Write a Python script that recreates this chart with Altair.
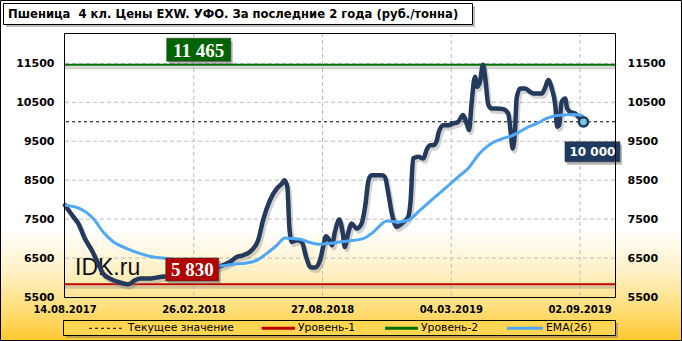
import altair as alt
import pandas as pd

# ---------------- data ----------------
x_tick_idx = [0, 26, 52, 78, 104]
x_tick_labels = ["14.08.2017", "26.02.2018", "27.08.2018", "04.03.2019", "02.09.2019"]
y_ticks = [5500, 6500, 7500, 8500, 9500, 10500, 11500]

price_x = [0, 1.7, 2.7, 4.0, 5.4, 6.7, 7.7, 9.1, 10.8, 12.8, 14.1, 15.2, 17.2, 19.2, 21.2,
           26.3, 31.3, 33.3, 34.7, 36.0, 37.7, 39.0, 40.0, 41.4, 42.8, 43.8, 44.3, 44.9,
           45.3, 45.8, 46.8, 47.8, 48.7, 49.5, 50.5, 51.5, 52.2, 52.7, 53.4, 53.9, 54.5,
           55.4, 56.1, 56.5, 57.2, 57.9, 58.9, 59.9, 60.6, 61.3, 61.9, 64.0, 64.6, 65.3,
           66.0, 67.0, 68.0, 69.3, 69.8, 70.3, 71.4, 72.4, 73.0, 73.7, 74.4, 75.1, 75.4,
           76.4, 77.4, 78.4, 79.4, 80.4, 81.1, 81.6, 82.1, 82.8, 83.2, 83.8, 84.4, 84.8,
           85.5, 86.2, 87.2, 88.5, 89.5, 90.0, 90.4, 90.9, 91.2, 91.9, 92.9, 93.9, 94.6,
           96.3, 96.9, 97.6, 98.3, 99.0, 99.4, 99.8, 100.3, 101.0, 101.4, 102.0, 103.0,
           103.7, 104.7]
price_y = [7857, 7557, 7387, 7001, 6700, 6358, 6100, 5973, 5886, 5826, 5929, 5973, 5975, 6014, 6040,
           6180, 6289, 6400, 6528, 6572, 6700, 6957, 7472, 7986, 8287, 8415, 8500, 8328,
           7300, 6914, 6957, 6914, 6528, 6271, 6256, 6443, 6829, 7060, 6957, 6829, 7171,
           7490, 7130, 6785, 7150, 7387, 7258, 7387, 7814, 8500, 8628, 8628, 8585, 8157,
           7644, 7300, 7387, 7557, 7986, 9058, 9099, 9058, 9271, 9400, 9400, 9528, 9700,
           9914, 9914, 9957, 10000, 10171, 9957, 9786, 10471, 11156, 10900, 11028, 11465, 11200,
           10428, 10343, 10343, 10325, 10214, 9743, 9315, 9828, 10600, 10857, 10857, 10771, 10728,
           10728, 10857, 11070, 10857, 10428, 9871, 9914, 10514, 10600, 10343, 10257, 10214,
           10128, 10000]

ema_x = [0, 3.0, 5.7, 7.7, 9.8, 12.5, 15.2, 17.8, 20.5, 26.3, 31.3, 34.0, 36.7, 39.0, 40.7,
         42.8, 44.4, 45.8, 47.5, 49.1, 51.2, 53.2, 55.5, 57.2, 60.2, 62.3, 65.0, 67.3, 69.3,
         71.7, 74.4, 77.1, 79.4, 81.4, 83.8, 85.8, 88.5, 90.2, 91.2, 93.2, 95.3, 97.3, 99.0,
         100.6, 102.7, 104.7]
ema_y = [7857, 7772, 7515, 7171, 6914, 6744, 6615, 6528, 6487, 6400, 6300, 6341, 6374, 6461, 6615,
         6829, 7017, 7001, 6983, 6914, 6855, 6872, 6914, 6940, 7001, 7171, 7454, 7428, 7472,
         7729, 8030, 8328, 8585, 8800, 9200, 9418, 9572, 9640, 9700, 9845, 9957, 10086, 10154,
         10171, 10189, 10150]

series_names = ["Текущее значение", "Уровень-1", "Уровень-2", "EMA(26)"]
series_colors = ["#000000", "#C00000", "#007000", "#4FA8F5"]
current_value = 10000
level1_value = 5830
level2_value = 11465
current_x = 104.7

title_text = "Пшеница\u00a0 4 кл. Цены EXW. УФО. За последние 2 года (руб./тонна)"
label_texts = ["11 465", "5 830", "10 000"]
label_x = [27.0, 25.7, 104.7]
label_y = [11465, 5830, 10000]

# ---------------- layout ----------------
W, H = 550, 264
XMAX = W * 26 / 128.75
xscale = alt.Scale(domain=[0, XMAX], nice=False, zero=False)
yscale = alt.Scale(domain=[5500, 12280], nice=False, zero=False)

# legend layout (pixels, relative to plot origin)
leg_x0 = [24, 196.7, 320, 442]
leg_x1 = [56.7, 230, 353, 478]
leg_tx = [62.7, 233, 356, 481]
leg_y = 295.3

price_df = pd.DataFrame({"i": price_x, "v": price_y})
ema_df = pd.DataFrame({"i": ema_x, "v": ema_y})
one = pd.DataFrame({"a": [0]})


def X(field):
    return alt.X(field, type="quantitative", scale=xscale, axis=None)


def Y(field, axis=None):
    return alt.Y(field, type="quantitative", scale=yscale, axis=axis)


def yaxis(orient, pad):
    return alt.Axis(values=y_ticks, format="d", labelFont="DejaVu Sans", labelFontWeight="bold",
                    labelFontSize=11, labelColor="black", ticks=False, domain=False,
                    grid=False, labelPadding=pad, title=None, zindex=2, orient=orient)


gradient = {
    "gradient": "linear", "x1": 0, "y1": 0, "x2": 0, "y2": 1,
    "stops": [
        {"offset": 0.0, "color": "#FFFFFF"},
        {"offset": 0.67, "color": "#FFFFFF"},
        {"offset": 0.80, "color": "#FFF0C4"},
        {"offset": 0.90, "color": "#FFE07E"},
        {"offset": 1.0, "color": "#FFC830"},
    ],
}

bg = alt.Chart(one).mark_rect(fill=gradient, stroke="black", strokeWidth=1).encode(
    x=alt.value(-64.5), x2=alt.value(616.5), y=alt.value(-32.5), y2=alt.value(307.5))

# title box
title_shadow = alt.Chart(one).mark_rect(fill="#808080", opacity=0.5).encode(
    x=alt.value(-59), x2=alt.value(410), y=alt.value(-27), y2=alt.value(-6))
title_box = alt.Chart(one).mark_rect(fill="white", stroke="black", strokeWidth=1).encode(
    x=alt.value(-61.5), x2=alt.value(407.5), y=alt.value(-29.5), y2=alt.value(-8.5))
title = alt.Chart(pd.DataFrame({"t": [title_text]})).mark_text(
    font="DejaVu Sans", fontWeight="bold", fontSize=11.6, align="left", baseline="alphabetic",
    color="black").encode(x=alt.value(-57), y=alt.value(-15), text="t:N")

# grids
ygrid = alt.Chart(pd.DataFrame({"v": y_ticks[1:]})).mark_rule(
    color="#BDBDBD", strokeDash=[4, 3], strokeWidth=1).encode(y=Y("v"))
xgrid = alt.Chart(pd.DataFrame({"i": x_tick_idx[1:]})).mark_rule(
    color="#BDBDBD", strokeDash=[4, 3], strokeWidth=1).encode(x=X("i"))

# x labels
xlabels = alt.Chart(pd.DataFrame({"i": x_tick_idx, "t": x_tick_labels})).mark_text(
    font="DejaVu Sans", fontWeight="bold", fontSize=10, color="black", align="center",
    baseline="middle").encode(x=X("i"), y=alt.value(H + 13.2), text="t:N")

# level lines
lv_df = pd.DataFrame({"v": [level1_value, level2_value], "c": [series_colors[1], series_colors[2]]})
lv_shadow = alt.Chart(lv_df).mark_rule(color="#7F7F7F", strokeWidth=3, opacity=0.35, yOffset=3).encode(y=Y("v"))
lv = alt.Chart(lv_df).mark_rule(strokeWidth=2).encode(
    y=Y("v"), color=alt.Color("c:N", scale=None))
cur = alt.Chart(pd.DataFrame({"v": [current_value]})).mark_rule(
    strokeWidth=1, strokeDash=[3, 3], color=series_colors[0]).encode(y=Y("v"))

# price line
price_shadow = alt.Chart(price_df).mark_line(
    color="#7F7F7F", strokeWidth=4.5, opacity=0.35, interpolate="monotone", xOffset=2, yOffset=3,
    strokeJoin="round", strokeCap="round").encode(x=X("i"), y=Y("v"))
price = alt.Chart(price_df).mark_line(
    color="#233A5C", strokeWidth=4.5, interpolate="monotone", strokeJoin="round", strokeCap="round").encode(
    x=X("i"), y=Y("v", axis=yaxis("left", 11)))

ema = alt.Chart(ema_df).mark_line(interpolate="monotone", strokeWidth=3, color=series_colors[3]).encode(
    x=X("i"), y=Y("v", axis=yaxis("right", 12)))

# end marker
end_df = pd.DataFrame({"i": [current_x], "v": [current_value]})
end_pt = alt.Chart(end_df).mark_point(filled=True, fill="#7CC5DD", stroke="#1F3A60", strokeWidth=2.5,
                                      size=85, opacity=1).encode(x=X("i"), y=Y("v"))

lab_df = pd.DataFrame({"i": label_x, "v": label_y, "t": label_texts})


def label_box(k, w, h, fill, dx, dy, font, size, tdy=0):
    d = lab_df.iloc[[k]]
    a = h / w
    shape = "M-1,-%.4fL1,-%.4fL1,%.4fL-1,%.4fZ" % (a, a, a, a)
    sh = alt.Chart(d).mark_point(shape=shape, size=w * w, filled=True, fill="#606060", opacity=0.45,
                                 strokeWidth=0, xOffset=dx + 2, yOffset=dy + 3).encode(x=X("i"), y=Y("v"))
    bx = alt.Chart(d).mark_point(shape=shape, size=w * w, filled=True, fill=fill, opacity=1,
                                 stroke="#3A3A3A", strokeWidth=0.6,
                                 xOffset=dx, yOffset=dy).encode(x=X("i"), y=Y("v"))
    tx = alt.Chart(d).mark_text(font=font, fontWeight="bold", fontSize=size, color="white",
                                align="center", baseline="middle", dx=dx, dy=dy + tdy).encode(
        x=X("i"), y=Y("v"), text="t:N")
    return [sh, bx, tx]


boxes = (label_box(0, 64, 23, "#006400", 0, -15, "Liberation Serif", 19, 1)
         + label_box(1, 53, 23, "#B00000", 0, -14.7, "Liberation Serif", 19, 1)
         + label_box(2, 55, 20, "#1F3A60", 9, 30, "DejaVu Sans", 12, 0))

idk = alt.Chart(pd.DataFrame({"t": ["IDK.ru"]})).mark_text(
    font="Liberation Sans", fontSize=23, align="left", baseline="alphabetic", color="#111111").encode(
    x=alt.value(10), y=alt.value(242), text="t:N")

frame = alt.Chart(one).mark_rect(fill=None, stroke="black", strokeWidth=1, fillOpacity=0).encode(
    x=alt.value(-0.5), x2=alt.value(550.5), y=alt.value(0.5), y2=alt.value(264.5))

# legend (custom, drawn from the series arrays)
leg_df = pd.DataFrame({"n": series_names, "c": series_colors, "x0": leg_x0, "x1": leg_x1, "tx": leg_tx})
legend_shadow = alt.Chart(one).mark_rect(fill="#707070", opacity=0.45).encode(
    x=alt.value(1), x2=alt.value(553), y=alt.value(290), y2=alt.value(305))
legend_box = alt.Chart(one).mark_rect(fill="#FFD552", stroke="black", strokeWidth=1).encode(
    x=alt.value(-1.5), x2=alt.value(550.5), y=alt.value(287.5), y2=alt.value(302.5))
leg_dash = alt.Chart(leg_df.iloc[[0]]).mark_rule(strokeWidth=1, strokeDash=[3, 3]).encode(
    x=alt.X("x0:Q", scale=None), x2="x1:Q", y=alt.value(leg_y), color=alt.Color("c:N", scale=None))
leg_solid = alt.Chart(leg_df.iloc[1:]).mark_rule(strokeWidth=3).encode(
    x=alt.X("x0:Q", scale=None), x2="x1:Q", y=alt.value(leg_y), color=alt.Color("c:N", scale=None))
leg_text = alt.Chart(leg_df).mark_text(font="DejaVu Sans", fontSize=10.8, color="black", align="left",
                                       baseline="middle").encode(
    x=alt.X("tx:Q", scale=None), y=alt.value(leg_y), text="n:N")

chart = alt.layer(
    bg, title_shadow, title_box, title, ygrid, xgrid, lv_shadow, lv, cur, idk,
    price_shadow, price, ema, end_pt, *boxes, frame, xlabels,
    legend_shadow, legend_box, leg_dash, leg_solid, leg_text
).resolve_scale(y="independent").properties(
    width=W, height=H,
    autosize=alt.AutoSizeParams(type="none"),
    padding={"left": 65, "top": 33, "right": 67, "bottom": 44},
).configure_view(stroke=None).configure(background="white")

chart.save("out.html", embed_options={"renderer": "svg", "actions": False})
